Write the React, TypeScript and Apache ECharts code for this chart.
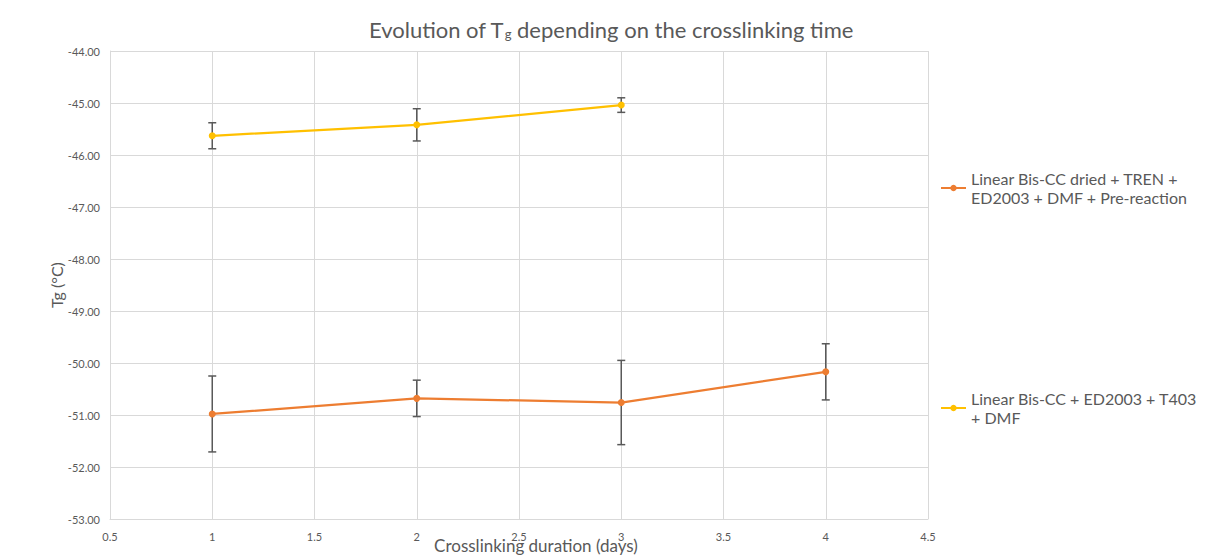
import React, { useEffect, useRef } from "react";
import * as echarts from "echarts";

const seriesNames = [
  "Linear Bis-CC dried + TREN +\nED2003 + DMF + Pre-reaction",
  "Linear Bis-CC + ED2003 + T403\n+ DMF",
];
const orangeDays = [1, 2, 3, 4];
const orangeTg = [-50.98, -50.68, -50.76, -50.17];
const orangeErr = [0.73, 0.35, 0.81, 0.54];
const yellowDays = [1, 2, 3];
const yellowTg = [-45.63, -45.42, -45.04];
const yellowErr = [0.25, 0.31, 0.14];

const FONT = "Lato";
const GREY = "#595959";

export default function App() {
  const ref = useRef<HTMLDivElement>(null);
  useEffect(() => {
    if (!ref.current) return;
    const chart = echarts.init(ref.current, undefined, { renderer: "svg" });
    const errData = (xs: number[], ys: number[], es: number[]) =>
      xs.map((x, i) => [x, ys[i] - es[i], ys[i] + es[i]]);
    const renderErr = (_p: any, api: any) => {
      const x = api.value(0);
      const lo = api.coord([x, api.value(1)]);
      const hi = api.coord([x, api.value(2)]);
      const w = 4;
      const style = { stroke: GREY, lineWidth: 1.5 };
      return {
        type: "group",
        children: [
          { type: "line", shape: { x1: lo[0], y1: lo[1], x2: hi[0], y2: hi[1] }, style },
          { type: "line", shape: { x1: lo[0] - w, y1: lo[1], x2: lo[0] + w, y2: lo[1] }, style },
          { type: "line", shape: { x1: hi[0] - w, y1: hi[1], x2: hi[0] + w, y2: hi[1] }, style },
        ],
      };
    };
    const legendText = { fontFamily: FONT, fontSize: 16, color: GREY, lineHeight: 19 };
    chart.setOption({
      animation: false,
      backgroundColor: "#ffffff",
      textStyle: { fontFamily: FONT },
      title: {
        text: "{a|Evolution of T}{s|g}{a| depending on the crosslinking time}",
        left: 364,
        top: 9,
        textStyle: {
          rich: {
            a: { fontFamily: FONT, fontSize: 22, fontWeight: "normal", color: GREY, lineHeight: 26, verticalAlign: "bottom" },
            s: { fontFamily: FONT, fontSize: 13, fontWeight: "normal", color: GREY, lineHeight: 8, verticalAlign: "bottom" },
          },
        },
      },
      grid: { left: 110, right: 282, top: 51, bottom: 36, containLabel: false, outerBoundsMode: "none" },
      legend: [
        {
          data: [seriesNames[0]],
          left: 940,
          top: 169,
          padding: 0,
          orient: "vertical",
          itemWidth: 25,
          itemHeight: 8,
          itemGap: 6,
          textStyle: legendText,
        },
        {
          data: [seriesNames[1]],
          left: 940,
          top: 389,
          padding: 0,
          orient: "vertical",
          itemWidth: 25,
          itemHeight: 8,
          itemGap: 6,
          textStyle: legendText,
        },
      ],
      xAxis: {
        type: "value",
        min: 0.5,
        max: 4.5,
        interval: 0.5,
        name: "Crosslinking duration (days)",
        nameLocation: "middle",
        nameGap: 18,
        nameMoveOverlap: false,
        nameTextStyle: { fontFamily: FONT, fontSize: 17, color: GREY, padding: [0, 0, 0, 34] },
        axisLine: { show: true, lineStyle: { color: "#d9d9d9", width: 1 } },
        axisTick: { show: false },
        axisLabel: { color: GREY, fontSize: 11, fontFamily: FONT, margin: 12 },
        splitLine: { show: true, lineStyle: { color: "#d9d9d9", width: 1 } },
      },
      yAxis: {
        type: "value",
        min: -53,
        max: -44,
        interval: 1,
        name: "Tg (°C)",
        nameLocation: "middle",
        nameGap: 46,
        nameMoveOverlap: false,
        nameTextStyle: { fontFamily: FONT, fontSize: 16, color: GREY },
        axisLine: { show: true, lineStyle: { color: "#d9d9d9", width: 1 } },
        axisTick: { show: false },
        axisLabel: {
          color: GREY,
          fontSize: 11,
          fontFamily: FONT,
          margin: 10,
          formatter: (v: number) => v.toFixed(2),
        },
        splitLine: { show: true, lineStyle: { color: "#d9d9d9", width: 1 } },
      },
      series: [
        {
          type: "custom",
          renderItem: renderErr,
          data: errData(orangeDays, orangeTg, orangeErr),
          z: 1,
          silent: true,
        },
        {
          type: "custom",
          renderItem: renderErr,
          data: errData(yellowDays, yellowTg, yellowErr),
          z: 1,
          silent: true,
        },
        {
          name: seriesNames[0],
          type: "line",
          data: orangeDays.map((d, i) => [d, orangeTg[i]]),
          symbol: "circle",
          symbolSize: 7,
          lineStyle: { color: "#ED7D31", width: 2.25 },
          itemStyle: { color: "#ED7D31" },
          z: 3,
        },
        {
          name: seriesNames[1],
          type: "line",
          data: yellowDays.map((d, i) => [d, yellowTg[i]]),
          symbol: "circle",
          symbolSize: 7,
          lineStyle: { color: "#FFC000", width: 2.25 },
          itemStyle: { color: "#FFC000" },
          z: 3,
        },
      ],
    });
    return () => chart.dispose();
  }, []);
  return (
    <div
      ref={ref}
      style={{ position: "absolute", left: 0, top: 0, width: 1210, height: 555, background: "#fff" }}
    />
  );
}
